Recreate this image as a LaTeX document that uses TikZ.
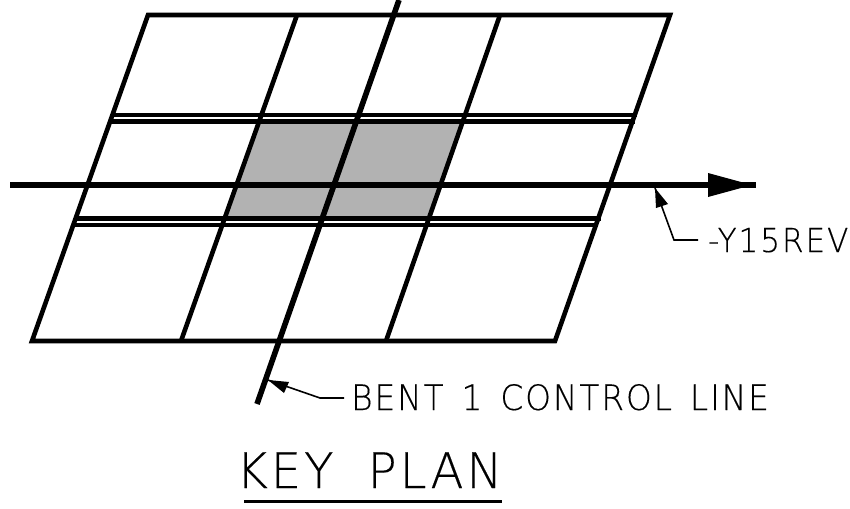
\documentclass[tikz,border=0pt]{standalone}
\usepackage{fontspec}
\newfontfamily\cadfont[LetterSpace=6,FakeBold=0.25]{DejaVu Sans ExtraLight}
\usetikzlibrary{arrows.meta}
\tikzset{
  gridline/.style={line width=4.6pt,black,line cap=butt},
  railline/.style={line width=4.6pt,black},
  mainline/.style={line width=5.6pt,black},
  leader/.style={line width=1.6pt,black},
  cadtext/.style={inner sep=0pt,anchor=base west,font=\cadfont},
}
\begin{document}
\begin{tikzpicture}[x=1pt,y=-1pt]
\useasboundingbox (0,0) rectangle (850,508);
% named points
\coordinate (tl) at (148,15); \coordinate (tr) at (670,15);
\coordinate (br) at (555,341); \coordinate (bl) at (32,341);
\coordinate (g1t) at (297,15); \coordinate (g1b) at (181,341);
\coordinate (g2t) at (500,15); \coordinate (g2b) at (386,341);
\coordinate (cl1) at (399,0); \coordinate (cl2) at (257,404);
\coordinate (ga) at (257,122); \coordinate (gb) at (461,122);
\coordinate (gc) at (428,217); \coordinate (gd) at (227,217);
\coordinate (m1) at (10,185); \coordinate (m2) at (756,185);
\coordinate (ah1) at (708,173); \coordinate (ah2) at (708,197); \coordinate (ah3) at (752,185);
% shaded bay
\fill[fill=black!30] (ga) -- (gb) -- (gc) -- (gd) -- cycle;
% rails
\coordinate (r1a) at (112,115); \coordinate (r1b) at (637,115);
\coordinate (r2a) at (110,121.6); \coordinate (r2b) at (635,121.6);
\coordinate (r3a) at (76,218.3); \coordinate (r3b) at (601,218.3);
\coordinate (r4a) at (74,224.8); \coordinate (r4b) at (598,224.8);
\draw[railline] (r1a) -- (r1b);
\draw[railline] (r2a) -- (r2b);
\draw[railline] (r3a) -- (r3b);
\draw[railline] (r4a) -- (r4b);
% outline and grid
\draw[gridline,line join=miter] (tl) -- (tr) -- (br) -- (bl) -- cycle;
\draw[gridline] (g1t) -- (g1b);
\draw[gridline] (g2t) -- (g2b);
\draw[mainline] (cl1) -- (cl2);
\draw[mainline] (m1) -- (m2);
\fill[black] (ah1) -- (ah3) -- (ah2) -- cycle;
% leaders
\coordinate (y1) at (655,188); \coordinate (y2) at (674,240); \coordinate (y3) at (698,240);
\coordinate (yh1) at (656,208); \coordinate (yh2) at (668,204);
\draw[leader] (y1) -- (y2) -- (y3);
\fill[black] (y1) -- (yh1) -- (yh2) -- cycle;
\coordinate (b1) at (268,380); \coordinate (b2) at (320,398); \coordinate (b3) at (344,398);
\coordinate (bh1) at (289,382); \coordinate (bh2) at (284,393);
\draw[leader] (b1) -- (b2) -- (b3);
\fill[black] (b1) -- (bh1) -- (bh2) -- cycle;
% text
\node[cadtext,font=\cadfont\fontsize{33}{33}\selectfont,xscale=0.945] (ytext) at (708,252) {-Y15REV};
\node[cadtext,font=\cadfont\fontsize{35}{35}\selectfont,xscale=0.935] (btext) at (351,410) {BENT\hspace{6pt} 1\hspace{6pt} CONTROL\hspace{6pt} LINE};
\node[cadtext,font=\cadfont\fontsize{49}{49}\selectfont,xscale=0.985] (ktext) at (236,488) {KEY\hspace{16pt} PLAN};
\coordinate (u1) at (244,501); \coordinate (u2) at (502,501);
\draw[line width=3pt,black] (u1) -- (u2);
\end{tikzpicture}
\end{document}
